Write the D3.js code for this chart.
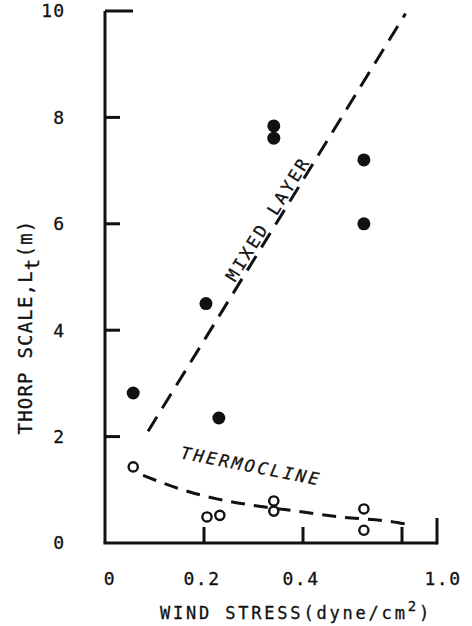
<!DOCTYPE html>
<html>
<head>
<meta charset="utf-8">
<script src="https://cdn.jsdelivr.net/npm/d3@7"></script>
<style>
  body { margin: 0; background: #fff; }
  text { font-family: "DejaVu Sans Mono", monospace; fill: #111; stroke: #111; stroke-width: 0.3; }
</style>
</head>
<body>
<svg id="chart" width="472" height="626"></svg>
<script>
// wind stress (dyne/cm2) vs Thorp scale (m)
const mixedLayer = [[0.057, 2.82], [0.204, 4.5], [0.23, 2.35], [0.341, 7.84], [0.341, 7.61], [0.523, 7.2], [0.523, 6.0]];
const thermocline = [[0.057, 1.43], [0.206, 0.49], [0.232, 0.52], [0.341, 0.79], [0.341, 0.6], [0.523, 0.64], [0.523, 0.24]];
const mixedFit = [[0.087, 2.1], [0.64, 9.95]];
const thermoFit = [[0.077, 1.27], [0.15, 1.02], [0.226, 0.83], [0.32, 0.68], [0.386, 0.6], [0.475, 0.49], [0.58, 0.4], [0.634, 0.36]];
const xTicks = [0.2, 0.4, 0.6];
const xLabels = [0, 0.2, 0.4, 1.0];
const yTicks = [2, 4, 6, 8, 10];
const yLabels = [0, 2, 4, 6, 8, 10];

const svg = d3.select("#chart");
// the axis is broken after 0.6: its right end is labelled 1.0
const x = d3.scaleLinear().domain([0, 0.6, 1.0]).range([105, 402, 437]);
const y = d3.scaleLinear().domain([0, 10]).range([543, 11]);

const axisW = 3;
// axes
svg.append("line").attr("x1", x(0)).attr("x2", x(0)).attr("y1", y(10)).attr("y2", y(0))
  .attr("stroke", "#111").attr("stroke-width", axisW);
svg.append("line").attr("x1", x(0) - 1.5).attr("x2", x(1.0)).attr("y1", y(0)).attr("y2", y(0))
  .attr("stroke", "#111").attr("stroke-width", axisW);

svg.selectAll(".ytick").data(yTicks).join("line")
  .attr("x1", x(0)).attr("x2", d => d === 10 ? x(0) + 28 : x(0) + 15)
  .attr("y1", d => y(d)).attr("y2", d => y(d))
  .attr("stroke", "#111").attr("stroke-width", axisW);

svg.selectAll(".xtick").data(xTicks).join("line")
  .attr("x1", d => x(d)).attr("x2", d => x(d))
  .attr("y1", y(0)).attr("y2", y(0) - 16)
  .attr("stroke", "#111").attr("stroke-width", axisW);
svg.append("line").attr("x1", x(1.0)).attr("x2", x(1.0))
  .attr("y1", y(0) + 1.5).attr("y2", y(0) - 25)
  .attr("stroke", "#111").attr("stroke-width", axisW);

svg.selectAll(".ylab").data(yLabels).join("text")
  .attr("x", 65).attr("y", d => y(d)).attr("dy", "0.36em")
  .attr("text-anchor", "end").attr("font-size", 18).attr("letter-spacing", 1)
  .text(d => d);

svg.selectAll(".xlab").data(xLabels).join("text")
  .attr("x", d => x(d) + (d === 0 ? 5 : d === 1 ? 6 : -2)).attr("y", 585)
  .attr("text-anchor", "middle").attr("font-size", 18).attr("letter-spacing", 1.5)
  .text(d => d === 0 ? "0" : d.toFixed(1));

// axis titles
const xt = svg.append("text").attr("x", 296).attr("y", 619).attr("text-anchor", "middle")
  .attr("font-size", 17).attr("letter-spacing", 2.8);
xt.append("tspan").text("WIND STRESS(dyne/cm");
xt.append("tspan").attr("dy", -8).attr("font-size", 14).text("2");
xt.append("tspan").attr("dy", 8).text(")");

const yt = svg.append("text").attr("transform", "translate(32,327) rotate(-90)")
  .attr("text-anchor", "middle").attr("font-size", 19).attr("letter-spacing", 1.2);
yt.append("tspan").text("THORP SCALE,L");
yt.append("tspan").attr("dy", 7).text("t");
yt.append("tspan").attr("dy", -7).text("(m)");

// fitted dashed lines
const line = d3.line().x(d => x(d[0])).y(d => y(d[1]));
svg.append("path").datum(mixedFit).attr("d", line)
  .attr("fill", "none").attr("stroke", "#111").attr("stroke-width", 3)
  .attr("stroke-dasharray", "17,10");
svg.append("path").datum(thermoFit).attr("d", line.curve(d3.curveMonotoneX))
  .attr("fill", "none").attr("stroke", "#111").attr("stroke-width", 3)
  .attr("stroke-dasharray", "14,9");

// points
svg.selectAll(".mix").data(mixedLayer).join("circle")
  .attr("cx", d => x(d[0])).attr("cy", d => y(d[1])).attr("r", 6.5)
  .attr("fill", "#111");
svg.selectAll(".thermo").data(thermocline).join("circle")
  .attr("cx", d => x(d[0])).attr("cy", d => y(d[1])).attr("r", 4.6)
  .attr("fill", "#fff").attr("stroke", "#111").attr("stroke-width", 2.4);

// curve labels
svg.append("text").attr("transform", "translate(273,222) rotate(-58)")
  .attr("text-anchor", "middle").attr("font-size", 17).attr("letter-spacing", 2.8)
  .text("MIXED LAYER");
svg.append("text").attr("transform", "translate(250,472) rotate(11)")
  .attr("text-anchor", "middle").attr("font-size", 17).attr("letter-spacing", 2.8)
  .attr("font-style", "italic").text("THERMOCLINE");
</script>
</body>
</html>
